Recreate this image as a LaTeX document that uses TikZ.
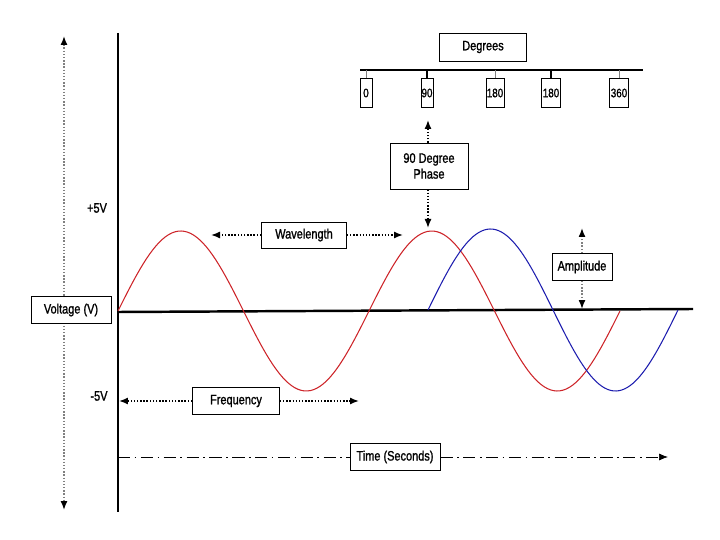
\documentclass[tikz,border=0pt]{standalone}
\usepackage{fontspec}
\setmainfont{Liberation Sans}[FakeStretch=0.8, FakeBold=1.2]
\usetikzlibrary{arrows.meta, positioning}

\definecolor{wavered}{RGB}{205,35,40}
\definecolor{waveblue}{RGB}{30,30,175}

\begin{document}
\begin{tikzpicture}[
  x=0.02cm, y=-0.02cm,
  box/.style={draw, thin, fill=white, inner sep=0pt, font=\fontsize{7.8}{9}\selectfont, align=center},
  tickbox/.style={draw, thin, inner sep=0pt, minimum height=29*0.02cm, font=\fontsize{7}{8}\selectfont},
  lbl/.style={font=\fontsize{7.8}{9}\selectfont},
  dotarrow/.style={densely dotted, thick, -{Latex[length=1.8mm, width=1.4mm, black]}},
  tip/.style={-{Latex[length=1.8mm, width=1.4mm]}}
]
\useasboundingbox (0,0) rectangle (720,540);

% axes
\coordinate (ytop) at (118,33);
\coordinate (ybot) at (118,512);
\draw[line width=0.8pt] (ytop) -- (ybot);
\coordinate (vtop) at (64,36);
\coordinate (vbot) at (64,510);
\draw[densely dotted, gray, thick, {Latex[length=1.8mm, width=1.4mm, black]}-{Latex[length=1.8mm, width=1.4mm, black]}] (vtop) -- (vbot);
\coordinate (base0) at (118,312);
\coordinate (base1) at (693,309);
\draw[line width=1.4pt] (base0) -- (base1);

% waves
\draw[wavered, semithick] plot[domain=118:620, samples=160] (\x, {311-80*sin((\x-118)*1.43426)});
\draw[waveblue, semithick] plot[domain=428:678, samples=90] (\x, {310-81*sin((\x-428)*1.44)});

% axis labels
\node[lbl] (plus) at (97,208) {+5V};
\node[lbl] (minus) at (99,396) {-5V};
\node[box, minimum width=80*0.02cm, minimum height=27*0.02cm] (volt) at (71,310) {Voltage (V)};

% wavelength
\node[box, minimum width=85*0.02cm, minimum height=26*0.02cm] (wave) at (304,235) {Wavelength};
\coordinate (wl) at (211,235);
\coordinate (wr) at (403,235);
\draw[dotarrow] (wave.west) -- (wl);
\draw[dotarrow] (wave.east) -- (wr);

% frequency
\node[box, minimum width=87*0.02cm, minimum height=27*0.02cm] (freq) at (236,401) {Frequency};
\coordinate (fl) at (119,401);
\coordinate (fr) at (359,401);
\draw[dotarrow] (freq.west) -- (fl);
\draw[dotarrow] (freq.east) -- (fr);

% time
\node[box, minimum width=90*0.02cm, minimum height=27*0.02cm] (time) at (395,457) {Time (Seconds)};
\coordinate (tl) at (118,457);
\coordinate (tr) at (668,457);
\draw[dash pattern=on 7pt off 2.5pt on 1pt off 2.5pt] (tl) -- (time.west);
\draw[dash pattern=on 7pt off 2.5pt on 1pt off 2.5pt, tip] (time.east) -- (tr);

% amplitude
\node[box, minimum width=60*0.02cm, minimum height=27*0.02cm] (amp) at (582,267) {Amplitude};
\coordinate (at) at (582,228);
\coordinate (ab) at (582,309);
\draw[dotarrow, gray] (amp.north) -- (at);
\draw[dotarrow, gray] (amp.south) -- (ab);

% degrees scale
\node[box, minimum width=87*0.02cm, minimum height=28*0.02cm] (deg) at (483,47) {Degrees};
\coordinate (sl) at (360,70);
\coordinate (sr) at (643,70);
\draw[semithick] (sl) -- (sr);
\node[tickbox, minimum width=12*0.02cm] (d0) at (366,93) {0};
\node[tickbox, minimum width=12*0.02cm] (d90) at (427,93) {90};
\node[tickbox, minimum width=18*0.02cm] (d180) at (495,93) {180};
\node[tickbox, minimum width=19*0.02cm] (d180b) at (551,93) {180};
\node[tickbox, minimum width=19*0.02cm] (d360) at (619,93) {360};
\foreach \t in {d0, d180, d360}
  \draw[gray] (\t.north) -- (\t.north |- sl);
\foreach \t in {d90, d180b}
  \draw[semithick] (\t.north) -- (\t.north |- sl);

% phase
\node[box, minimum width=78*0.02cm, minimum height=46*0.02cm] (phase) at (429,166) {90 Degree\\Phase};
\coordinate (pt) at (428,120);
\coordinate (pb) at (428,228);
\draw[dotarrow] (phase.north -| pt) -- (pt);
\draw[dotarrow] (phase.south -| pb) -- (pb);
\end{tikzpicture}
\end{document}
